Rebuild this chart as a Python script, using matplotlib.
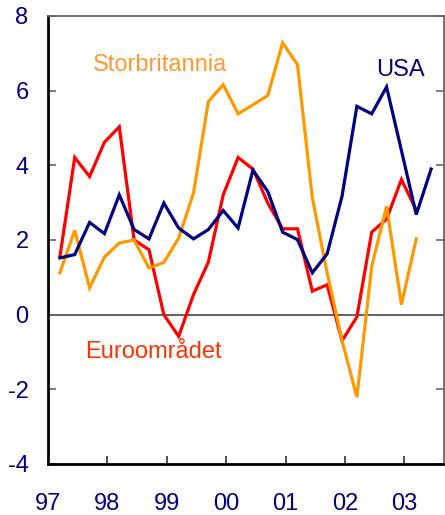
import matplotlib
matplotlib.use("Agg")
import matplotlib.pyplot as plt
import numpy as np

plt.rcParams['font.family'] = ['Liberation Sans', 'DejaVu Sans']

start_year = 1997
quarter_offset = 0.2
usa = [1.52, 1.61, 2.47, 2.17, 3.21, 2.28, 2.03, 2.99, 2.32, 2.03, 2.28, 2.79, 2.32,
       3.87, 3.30, 2.21, 2.01, 1.12, 1.63, 3.17, 5.58, 5.38, 6.10, 4.40, 2.68, 3.90]
euro = [1.55, 4.21, 3.70, 4.62, 5.03, 2.00, 1.74, 0.00, -0.58, 0.54, 1.41, 3.21, 4.21,
        3.90, 2.99, 2.30, 2.30, 0.63, 0.80, -0.70, -0.06, 2.21, 2.56, 3.62, 2.80]
uk = [1.12, 2.26, 0.72, 1.54, 1.92, 2.00, 1.25, 1.40, 2.05, 3.26, 5.71, 6.16, 5.38,
      5.62, 5.87, 7.28, 6.70, 3.13, 1.12, -0.69, -2.21, 1.29, 2.90, 0.27, 2.03]
year_labels = ['97', '98', '99', '00', '01', '02', '03']
y_ticks = [-4, -2, 0, 2, 4, 6, 8]

def qx(n):
    return start_year + quarter_offset + 0.25 * np.arange(n)

navy = '#000080'
red = '#FF0000'
orange = '#FF9900'

fig = plt.figure(figsize=(4.45, 5.15), dpi=100)
ax = fig.add_axes([48/445, 1 - 464/515, 396/445, 448/515])

ax.axhline(0, color='#555555', lw=1.3, zorder=1)
ax.plot(qx(len(euro)), euro, color=red, lw=2.3, zorder=2, solid_joinstyle='miter')
ax.plot(qx(len(uk)), uk, color=orange, lw=2.3, zorder=3, solid_joinstyle='miter')
ax.plot(qx(len(usa)), usa, color=navy, lw=2.3, zorder=4, solid_joinstyle='miter')

ax.set_xlim(1997, 2003.667)
ax.set_ylim(-4, 8)
ax.set_yticks(y_ticks)
ax.set_yticklabels([str(v) for v in y_ticks])
years = [start_year + i for i in range(len(year_labels))]
ax.set_xticks(years)
ax.set_xticklabels(year_labels)

ax.tick_params(axis='y', direction='in', length=6, width=1.2, color='#666666',
               labelsize=17, labelcolor=navy, pad=14, left=True, right=True)
ax.tick_params(axis='x', direction='in', length=6, width=1.2, color='#333333',
               labelsize=17, labelcolor=navy, pad=21)
ax.xaxis.get_major_ticks()[0].tick1line.set_visible(False)

for s in ['left', 'bottom']:
    ax.spines[s].set_color('black')
    ax.spines[s].set_linewidth(2)
for s in ['top', 'right']:
    ax.spines[s].set_color('#666666')
    ax.spines[s].set_linewidth(1.3)

ax.text(1998.89, 6.7, 'Storbritannia', color='#FF9933', fontsize=17, ha='center', va='center')
ax.text(2002.93, 6.55, 'USA', color=navy, fontsize=17, ha='center', va='center')
ax.text(1998.77, -1.0, 'Euroområdet', color='#FF3300', fontsize=17, ha='center', va='center')

fig.savefig('out.png', dpi=100)
